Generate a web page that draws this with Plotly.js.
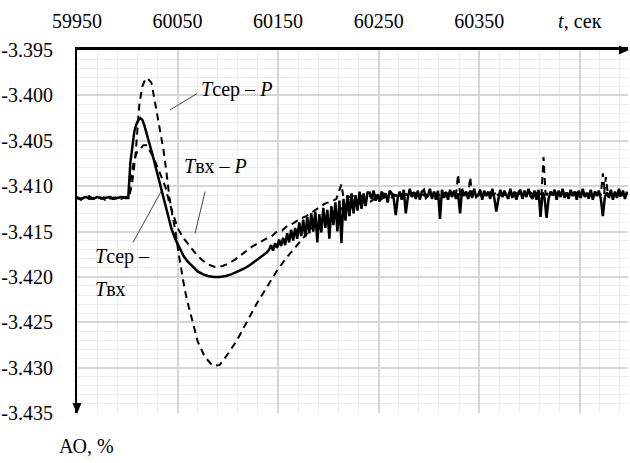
<!DOCTYPE html>
<html><head><meta charset="utf-8">
<script src="https://cdn.plot.ly/plotly-3.0.1.min.js"></script>
<style>html,body{margin:0;padding:0;background:#fff}#chart{width:630px;height:463px}</style>
</head><body><div id="chart"></div>
<script>
// ---- Data ----
const xTickVals = [59950, 60050, 60150, 60250, 60350, 60450];
const xTickText = ["59950", "60050", "60150", "60250", "60350", "<i>t</i>, сек"];
const yTickVals = [-3.395, -3.400, -3.405, -3.410, -3.415, -3.420, -3.425, -3.430, -3.435];
const yTickText = ["-3.395", "-3.400", "-3.405", "-3.410", "-3.415", "-3.420", "-3.425", "-3.430", "-3.435"];

// Tсер – Tвх (solid)
const tSolid = [59950,59954,59958,59962,59966,59970,59974,59978,59982,59986,59990,59994,59998,60001,
60003,60005,60007,60009,60011,60013,60015,60017,60019,60022,60025,60028,60031,60034,60037,60040,60044,60048,
60052,60056,60060,60065,60070,60075,60080,60086,60092,60098,60104,60110,60116,60122,60128,60134,60139,
60141,60143,60145,60147,60149,60151,60153,60155,60157,60159,60161,60163,60165,60167,60169,60171,60173,60175,60177,60179,
60181,60183,60185,60187,60189,60191,60193,60195,60197,60199,60201,60203,60205,60207,60209,60211,60213,60215,60217,60219,
60221,60223,60225,60227,60229,60231,60233,60235,60237,60239,60241,60243,60245,60247,60249,60251,60253,60255,60257,60259,
60261,60263,60265,60267,60269,60271,60273,60275,60277,60279,60281,60283,60285,60287,60289,60291,60293,60295,60297,60299,
60301,60303,60305,60307,60309,60311,60313,60315,60317,60319,60321,60323,60325,60327,60329,60331,60333,60335,60337,60339,
60341,60343,60345,60347,60349,60351,60353,60355,60357,60359,60361,60363,60365,60367,60369,60371,60373,60375,60377,60379,
60381,60383,60385,60387,60389,60391,60393,60395,60397,60399,60401,60403,60405,60407,60409,60411,60413,60415,60417,60419,
60421,60423,60425,60427,60429,60431,60433,60435,60437,60439,60441,60443,60445,60447,60449,60451,60453,60455,60457,60459,
60461,60463,60465,60467,60469,60471,60473,60475,60477,60479,60481,60483,60485,60487,60489,60491,60493,60495,60497];
const aoSolid = [-3.4113,-3.4114,-3.4112,-3.4113,-3.4114,-3.4112,-3.4113,-3.4113,-3.4112,-3.4114,-3.4113,-3.4112,-3.4113,-3.4113,
-3.4075,-3.4055,-3.4040,-3.4032,-3.4027,-3.4025,-3.4027,-3.4033,-3.4042,-3.4053,-3.4065,-3.4078,-3.4092,-3.4104,-3.4117,-3.4130,-3.4147,-3.4159,
-3.4169,-3.4177,-3.4183,-3.4189,-3.4194,-3.4197,-3.4199,-3.4200,-3.4200,-3.4199,-3.4197,-3.4194,-3.4191,-3.4187,-3.4182,-3.4177,-3.4173,
-3.4170,-3.4165,-3.4171,-3.4163,-3.4168,-3.4159,-3.4166,-3.4157,-3.4165,-3.4152,-3.4162,-3.4148,-3.4160,-3.4146,-3.4158,-3.4140,-3.4155,-3.4137,-3.4156,-3.4134,
-3.4152,-3.4130,-3.4150,-3.4128,-3.4162,-3.4131,-3.4151,-3.4124,-3.4146,-3.4126,-3.4158,-3.4122,-3.4143,-3.4118,-3.4150,-3.4116,-3.4163,-3.4114,-3.4138,-3.4110,
-3.4133,-3.4108,-3.4130,-3.4110,-3.4127,-3.4106,-3.4125,-3.4108,-3.4122,-3.4107,-3.4107,-3.4114,-3.4105,-3.4116,-3.4109,-3.4117,-3.4106,-3.4113,-3.4108,-3.4118,
-3.4105,-3.4108,-3.4114,-3.4132,-3.4113,-3.4106,-3.4115,-3.4104,-3.4130,-3.4113,-3.4103,-3.4112,-3.4107,-3.4114,-3.4105,-3.4115,-3.4106,-3.4104,-3.4113,-3.4111,
-3.4103,-3.4114,-3.4106,-3.4115,-3.4105,-3.4136,-3.4104,-3.4113,-3.4107,-3.4115,-3.4104,-3.4112,-3.4105,-3.4114,-3.4108,-3.4130,-3.4103,-3.4111,-3.4106,-3.4114,
-3.4105,-3.4113,-3.4103,-3.4112,-3.4110,-3.4104,-3.4115,-3.4105,-3.4111,-3.4106,-3.4114,-3.4103,-3.4113,-3.4128,-3.4115,-3.4104,-3.4112,-3.4105,-3.4110,-3.4114,
-3.4103,-3.4113,-3.4106,-3.4115,-3.4107,-3.4104,-3.4114,-3.4105,-3.4112,-3.4103,-3.4111,-3.4114,-3.4105,-3.4115,-3.4104,-3.4134,-3.4107,-3.4113,-3.4135,-3.4114,
-3.4106,-3.4110,-3.4104,-3.4115,-3.4105,-3.4112,-3.4103,-3.4113,-3.4107,-3.4114,-3.4104,-3.4111,-3.4106,-3.4115,-3.4105,-3.4113,-3.4103,-3.4112,-3.4108,-3.4114,
-3.4104,-3.4115,-3.4106,-3.4111,-3.4105,-3.4114,-3.4133,-3.4112,-3.4107,-3.4113,-3.4104,-3.4115,-3.4106,-3.4113,-3.4103,-3.4111,-3.4105,-3.4114,-3.4106];

// Tсер – P (dashed, tall peak, deep trough)
const tSerP = [59950,59954,59958,59962,59966,59970,59974,59978,59982,59986,59990,59994,59998,60002,
60005,60008,60010,60012,60015,60018,60020,60022,60024,60027,60030,60033,60036,60039,60042,60045,60048,60051,60054,60057,
60060,60065,60070,60077,60085,60092,60100,60109,60119,60129,60139,60149,60159,60165,60172,
60177,60182,60187,60192,60197,60202,60207,60212,60217,60222,60227,60232,60237,60242,60247,60252,60257,60262,60267,60272,
60277,60282,60287,60292,60297,60302,60307,60312,60317,60322,60327,60329,60331,60336,60341,60346,60351,60356,60361,60366,
60371,60376,60381,60386,60391,60396,60401,60406,60412,60414,60416,60421,60426,60431,60436,60441,60446,60451,60456,60461,
60466,60471,60473,60475,60480,60485,60490,60495,60498];
const aoSerP = [-3.4113,-3.4115,-3.4112,-3.4114,-3.4113,-3.4111,-3.4114,-3.4112,-3.4114,-3.4113,-3.4112,-3.4114,-3.4112,-3.4112,
-3.4095,-3.4068,-3.4035,-3.4010,-3.3990,-3.3982,-3.3981,-3.3983,-3.3986,-3.4004,-3.4022,-3.4039,-3.4060,-3.4085,-3.4113,-3.4133,-3.4150,-3.4174,-3.4195,-3.4213,
-3.4228,-3.4251,-3.4271,-3.4288,-3.4298,-3.4297,-3.4285,-3.4270,-3.4249,-3.4229,-3.4211,-3.4193,-3.4178,-3.4170,-3.4161,
-3.4155,-3.4148,-3.4143,-3.4141,-3.4135,-3.4132,-3.4127,-3.4126,-3.4121,-3.4124,-3.4118,-3.4119,-3.4115,-3.4117,-3.4113,-3.4115,-3.4111,-3.4113,-3.4110,-3.4112,
-3.4109,-3.4112,-3.4108,-3.4111,-3.4109,-3.4112,-3.4108,-3.4110,-3.4107,-3.4111,-3.4109,-3.4087,-3.4109,-3.4110,-3.4107,-3.4111,-3.4108,-3.4110,-3.4107,-3.4111,
-3.4108,-3.4110,-3.4107,-3.4111,-3.4108,-3.4110,-3.4107,-3.4111,-3.4108,-3.4068,-3.4109,-3.4110,-3.4107,-3.4111,-3.4108,-3.4110,-3.4107,-3.4111,-3.4108,-3.4110,
-3.4107,-3.4109,-3.4086,-3.4108,-3.4110,-3.4107,-3.4111,-3.4108,-3.4109];

// Tвх – P (dashed, small peak)
const tVxP = [59950,59954,59958,59962,59966,59970,59974,59978,59982,59986,59990,59994,59998,60001,
60003,60005,60007,60010,60013,60016,60019,60022,60026,60030,60034,60038,60041,60045,60050,60055,60060,60065,60070,60075,60080,
60087,60095,60101,60107,60113,60119,60125,60132,60138,60143,60149,60154,60159,60165,60172,60178,60185,60191,60197,60203,60208,
60213,60215,60220,60225,60230,60235,60240,60245,60250,60255,60260,60265,60270,60275,60280,60285,60290,60295,60300,60305,
60310,60315,60320,60325,60330,60335,60339,60341,60343,60348,60353,60358,60363,60368,60373,60378,60383,60388,60393,60398,
60403,60408,60413,60418,60423,60428,60433,60438,60443,60448,60453,60458,60463,60468,60474,60476,60478,60483,60488,60493,60498];
const aoVxP = [-3.4112,-3.4114,-3.4113,-3.4111,-3.4114,-3.4112,-3.4113,-3.4115,-3.4112,-3.4113,-3.4114,-3.4112,-3.4113,-3.4113,
-3.4095,-3.4080,-3.4070,-3.4062,-3.4058,-3.4055,-3.4055,-3.4060,-3.4068,-3.4079,-3.4090,-3.4101,-3.4115,-3.4129,-3.4146,-3.4156,-3.4163,-3.4170,-3.4177,-3.4182,-3.4186,
-3.4189,-3.4188,-3.4185,-3.4181,-3.4176,-3.4171,-3.4166,-3.4162,-3.4158,-3.4156,-3.4150,-3.4149,-3.4144,-3.4141,-3.4136,-3.4133,-3.4128,-3.4124,-3.4119,-3.4117,-3.4114,
-3.4098,-3.4113,-3.4112,-3.4111,-3.4113,-3.4110,-3.4112,-3.4109,-3.4111,-3.4108,-3.4111,-3.4109,-3.4112,-3.4108,-3.4110,-3.4107,-3.4111,-3.4109,-3.4111,-3.4108,
-3.4110,-3.4107,-3.4111,-3.4108,-3.4110,-3.4108,-3.4111,-3.4090,-3.4110,-3.4108,-3.4111,-3.4108,-3.4110,-3.4107,-3.4111,-3.4108,-3.4110,-3.4107,-3.4111,-3.4108,
-3.4110,-3.4107,-3.4111,-3.4108,-3.4110,-3.4107,-3.4111,-3.4108,-3.4110,-3.4107,-3.4111,-3.4108,-3.4110,-3.4108,-3.4111,-3.4090,-3.4109,-3.4110,-3.4107,-3.4110,-3.4108];

// Series labels and their leader lines (data coordinates)
const labels = [
  {text: "<i>T</i>сер – <i>P</i>", t: 60109, v: -3.3994, anchor: "center"},
  {text: "<i>T</i>вх – <i>P</i>", t: 60088, v: -3.4078, anchor: "center"},
  {text: "<i>T</i>сер –", t: 59966, v: -3.4178, anchor: "left"},
  {text: "<i>T</i>вх", t: 59966, v: -3.4213, anchor: "left"}
];
const leaders = [
  [60042.5, -3.4016, 60069.4, -3.3998],
  [60067.4, -3.4152, 60077.4, -3.4106],
  [60033.6, -3.4106, 60005.7, -3.4162]
];

// ---- Chart ----
const SERIF = "Liberation Serif";
const traces = [
  {x: tSerP, y: aoSerP, mode: "lines", line: {color: "#000", width: 2, dash: "7px,5px"}, name: "Tсер – P"},
  {x: tVxP, y: aoVxP, mode: "lines", line: {color: "#000", width: 2, dash: "7px,5px"}, name: "Tвх – P"},
  {x: tSolid, y: aoSolid, mode: "lines", line: {color: "#000", width: 2.5}, name: "Tсер – Tвх"}
];

const annotations = labels.map(l => ({
  x: l.t, y: l.v, xref: "x", yref: "y", text: l.text, showarrow: false,
  xanchor: l.anchor, yanchor: "middle"
}));
annotations.push({x: 0.018, y: -0.09, xref: "paper", yref: "paper", text: "АО, %", showarrow: false,
  xanchor: "center", yanchor: "middle"});

const shapes = leaders.map(s => ({type: "line", xref: "x", yref: "y", x0: s[0], y0: s[1], x1: s[2], y1: s[3],
  line: {color: "#444", width: 1}}));
shapes.push({type: "path", xref: "paper", yref: "paper", xsizemode: "pixel", ysizemode: "pixel",
  xanchor: 1, yanchor: 1, path: "M 1 0 L -9 4.5 L -9 -4.5 Z", fillcolor: "#000", line: {width: 0}});
shapes.push({type: "path", xref: "paper", yref: "paper", xsizemode: "pixel", ysizemode: "pixel",
  xanchor: 0, yanchor: 0, path: "M 0 -1 L -4.5 10 L 4.5 10 Z", fillcolor: "#000", line: {width: 0}});

const layout = {
  width: 630, height: 463,
  margin: {l: 77, r: 2, t: 50, b: 50},
  paper_bgcolor: "#fff", plot_bgcolor: "#fff",
  showlegend: false,
  font: {family: SERIF, size: 20, color: "#000"},
  xaxis: {
    side: "top", range: [59950, 60498],
    tickmode: "array", tickvals: xTickVals, ticktext: xTickText,
    ticks: "", showline: true, linecolor: "#000", linewidth: 2.5,
    showgrid: true, gridcolor: "#d6d6d6", gridwidth: 1.5, zeroline: false,
    ticklabelstandoff: 11,
    minor: {tick0: 59950, dtick: 20, showgrid: true, gridcolor: "#ececec", gridwidth: 1, ticks: ""}
  },
  yaxis: {
    range: [-3.435, -3.395],
    tickmode: "array", tickvals: yTickVals, ticktext: yTickText,
    ticks: "", showline: true, linecolor: "#000", linewidth: 2,
    showgrid: true, gridcolor: "#d6d6d6", gridwidth: 1.5, zeroline: false,
    ticklabelstandoff: 18,
    minor: {tick0: -3.435, dtick: 0.001, showgrid: true, gridcolor: "#ececec", gridwidth: 1, ticks: ""}
  },
  annotations: annotations,
  shapes: shapes
};

Plotly.newPlot("chart", traces, layout, {displayModeBar: false}).then(function () {
  document.querySelectorAll("#chart text").forEach(function (el) {
    el.style.setProperty("font-family", "'" + SERIF + "', serif", "important");
  });
});
</script>
</body></html>
